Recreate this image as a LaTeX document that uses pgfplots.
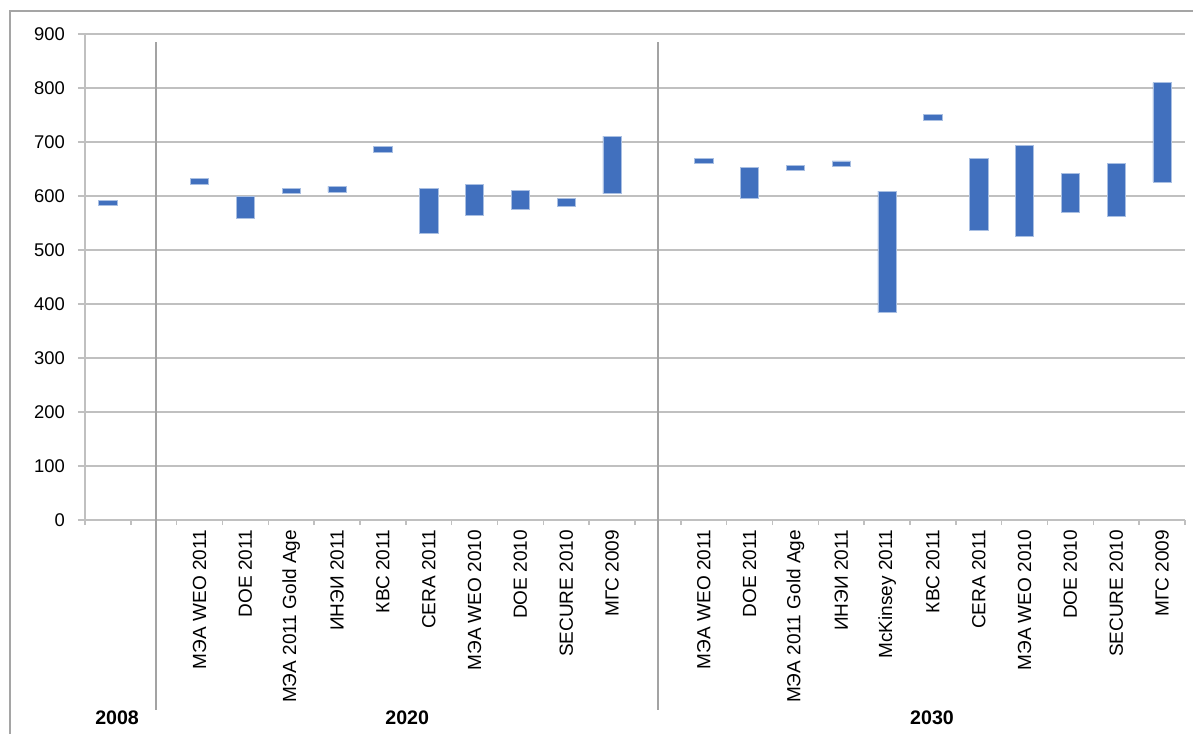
\documentclass[border=0pt]{standalone}
\usepackage{fontspec}
\setmainfont{Liberation Sans}
\usepackage{pgfplots}
\usepackage{pgfplotstable}
\pgfplotsset{compat=1.18}

\definecolor{barblue}{RGB}{65,112,190}
\definecolor{gridgray}{RGB}{192,192,192}
\definecolor{framegray}{RGB}{165,165,165}

\pgfplotstableread{
x low high
0.5 583 592
2.5 622 633
3.5 558 600
4.5 604 614
5.5 607 618
6.5 680 691
7.5 531 614
8.5 565 622
9.5 575 611
10.5 581 595
11.5 604 711
13.5 661 670
14.5 596 653
15.5 648 657
16.5 655 665
17.5 384 609
18.5 740 751
19.5 536 669
20.5 525 694
21.5 570 642
22.5 562 661
23.5 626 810
}\data

\begin{document}
\begin{tikzpicture}
\useasboundingbox (-42.5pt,-107pt) rectangle (554pt,260pt);
\draw[framegray, line width=0.7pt] (-37.5pt,-107pt) -- (-37.5pt,254.5pt) -- (554pt,254.5pt);
\begin{axis}[
  at={(0pt,0pt)}, anchor=origin,
  width=550pt, height=243pt, scale only axis,
  xmin=0, xmax=24, ymin=0, ymax=900,
  enlargelimits=false,
  clip=false,
  ybar stacked, bar width=0.4,
  ytick={0,100,...,900},
  ymajorgrids, grid style={gridgray, line width=0.75pt},
  axis lines*=left,
  axis line style={gridgray, line width=0.75pt, -},
  tick align=outside,
  major tick length=3.5pt, minor tick length=2.5pt,
  tick style={gridgray, line width=0.75pt},
  xtick={2.5,3.5,4.5,5.5,6.5,7.5,8.5,9.5,10.5,11.5,13.5,14.5,15.5,16.5,17.5,18.5,19.5,20.5,21.5,22.5,23.5},
  xticklabels={МЭА WEO 2011,DOE 2011,МЭА 2011 Gold Age,ИНЭИ 2011,КВС 2011,CERA 2011,МЭА WEO 2010,DOE 2010,SECURE 2010,МГС 2009,
               МЭА WEO 2011,DOE 2011,МЭА 2011 Gold Age,ИНЭИ 2011,McKinsey 2011,КВС 2011,CERA 2011,МЭА WEO 2010,DOE 2010,SECURE 2010,МГС 2009},
  minor xtick={0,1,...,24},
  major x tick style={draw=none},
  xticklabel shift=-2pt,
  xticklabel style={rotate=90, anchor=east, font=\fontsize{9.5}{11}\selectfont},
  yticklabel style={font=\fontsize{9.2}{10}\selectfont, xshift=-3pt},
  /pgf/number format/assume math mode=true,
]
\addplot[draw=none, fill=none, forget plot] table[x=x, y=low] {\data};
\addplot[fill=barblue, draw=barblue!45!white, line width=0.4pt] table[x=x, y expr=\thisrow{high}-\thisrow{low}] {\data};

\draw[gridgray!85!black, line width=1pt] (axis cs:1.55,885) -- ([yshift=-95pt]axis cs:1.55,0);
\draw[gridgray!85!black, line width=1pt] (axis cs:12.5,885) -- ([yshift=-95pt]axis cs:12.5,0);

\node[font=\bfseries\fontsize{9.8}{11}\selectfont] at ([yshift=-99pt]axis cs:0.7,0) {2008};
\node[font=\bfseries\fontsize{9.8}{11}\selectfont] at ([yshift=-99pt]axis cs:7.03,0) {2020};
\node[font=\bfseries\fontsize{9.8}{11}\selectfont] at ([yshift=-99pt]axis cs:18.48,0) {2030};
\end{axis}
\end{tikzpicture}
\end{document}
